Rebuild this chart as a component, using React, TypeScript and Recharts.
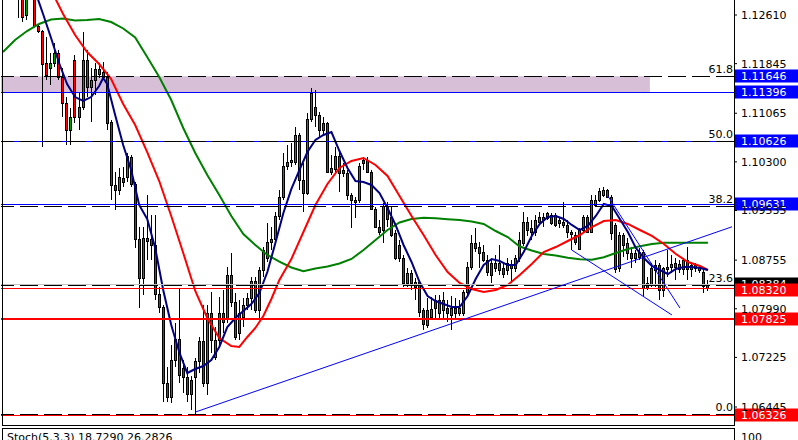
import React from "react";
import { ComposedChart, Bar, Line, XAxis, YAxis, ReferenceLine, ReferenceArea } from "recharts";

// EURUSD-style candles (oldest first)
const openP = [
  1.132, 1.1314, 1.1305, 1.1312, 1.13003, 1.12877, 1.1261, 1.12909, 1.13003, 1.12437,
  1.12358, 1.11855, 1.11777, 1.11855, 1.12013, 1.11635, 1.11226, 1.10801, 1.11902, 1.11006,
  1.11163, 1.11902, 1.11478, 1.11588, 1.11682, 1.11635, 1.11635, 1.10928, 1.09937, 1.09858,
  1.10046, 1.10062, 1.10377, 1.09952, 1.09087, 1.08474, 1.09056, 1.09087, 1.08993, 1.08222,
  1.08018, 1.06823, 1.06603, 1.07184, 1.07514, 1.07058, 1.06917, 1.0687, 1.06917, 1.07169,
  1.07483, 1.06823, 1.07924, 1.07231, 1.07499, 1.07924, 1.07845, 1.08521, 1.08096, 1.07609,
  1.07861, 1.08049, 1.08159, 1.08427, 1.07971, 1.086, 1.08789, 1.0904, 1.09087, 1.09449,
  1.09748, 1.10235, 1.10298, 1.10298, 1.10723, 1.10015, 1.09811, 1.10975, 1.11163, 1.11037,
  1.10912, 1.10912, 1.10141, 1.10188, 1.10392, 1.10172, 1.10125, 1.09779, 1.09701, 1.09701,
  1.1033, 1.1033, 1.10141, 1.09559, 1.09276, 1.09229, 1.09606, 1.09433, 1.09182, 1.08993,
  1.08789, 1.08395, 1.08552, 1.08411, 1.08411, 1.07971, 1.07735, 1.07861, 1.08128, 1.07924,
  1.07971, 1.08002, 1.07892, 1.08002, 1.07924, 1.07924, 1.08254, 1.08647, 1.09024, 1.08961,
  1.08883, 1.08757, 1.0871, 1.08631, 1.086, 1.08631, 1.086, 1.08678, 1.08631, 1.08789,
  1.09024, 1.09355, 1.0926, 1.09197, 1.09355, 1.09433, 1.09418, 1.09465, 1.09465, 1.09339,
  1.09355, 1.09308, 1.09197, 1.0915, 1.0893, 1.09229, 1.09433, 1.09197, 1.09622, 1.09701,
  1.09779, 1.09858, 1.09748, 1.09308, 1.08631, 1.0915, 1.08867, 1.08867, 1.08789, 1.08883,
  1.08883, 1.08395, 1.08364, 1.08678, 1.08678, 1.08285, 1.08616, 1.08647, 1.0871, 1.08616,
  1.08616, 1.08757, 1.08616, 1.08631, 1.08647, 1.08568, 1.08317,
];
const highP = [
  1.133, 1.1322, 1.1318, 1.132, 1.13082, 1.12925, 1.12972, 1.13066, 1.13066, 1.12453,
  1.12374, 1.12264, 1.12013, 1.1217, 1.1206, 1.11777, 1.1132, 1.11148, 1.11981, 1.11383,
  1.12343, 1.1206, 1.11777, 1.11855, 1.11855, 1.11871, 1.11714, 1.10959, 1.10141, 1.10204,
  1.10219, 1.1044, 1.10408, 1.09983, 1.09276, 1.09276, 1.0978, 1.09465, 1.09465, 1.08332,
  1.08049, 1.07074, 1.0742, 1.07766, 1.08301, 1.07184, 1.07074, 1.06933, 1.07216, 1.07546,
  1.08049, 1.08049, 1.08254, 1.07703, 1.08175, 1.08285, 1.08647, 1.08867, 1.08238, 1.08128,
  1.08159, 1.08238, 1.0849, 1.0849, 1.08647, 1.08961, 1.09339, 1.09276, 1.09512, 1.09858,
  1.1044, 1.10566, 1.10597, 1.10849, 1.10754, 1.10282, 1.11069, 1.11462, 1.11431, 1.11085,
  1.11006, 1.10928, 1.10408, 1.10534, 1.10487, 1.10282, 1.10172, 1.09811, 1.09748, 1.10282,
  1.10377, 1.10377, 1.10172, 1.0959, 1.09386, 1.09653, 1.09669, 1.0959, 1.09229, 1.09072,
  1.08836, 1.08631, 1.086, 1.08474, 1.08442, 1.08002, 1.08159, 1.08175, 1.08206, 1.08206,
  1.08254, 1.08128, 1.08191, 1.08159, 1.08128, 1.08285, 1.08726, 1.0915, 1.0926, 1.0904,
  1.08993, 1.08836, 1.08757, 1.08836, 1.08993, 1.08726, 1.08789, 1.08757, 1.08836, 1.09197,
  1.09512, 1.09433, 1.09386, 1.09465, 1.09512, 1.09496, 1.09512, 1.09496, 1.09496, 1.09433,
  1.09669, 1.09386, 1.09229, 1.09197, 1.0926, 1.09465, 1.09465, 1.09779, 1.09779, 1.0989,
  1.09905, 1.09874, 1.09779, 1.09339, 1.09197, 1.09182, 1.09103, 1.08961, 1.08914, 1.08946,
  1.08914, 1.0849, 1.0871, 1.08757, 1.0871, 1.08647, 1.08914, 1.08836, 1.08789, 1.08757,
  1.08789, 1.08961, 1.08726, 1.0871, 1.08678, 1.086, 1.08442,
];
const lowP = [
  1.1308, 1.1301, 1.1296, 1.129, 1.12563, 1.125, 1.12531, 1.12862, 1.12421, 1.12327,
  1.10534, 1.11588, 1.11509, 1.11792, 1.11588, 1.11006, 1.10566, 1.10566, 1.10912, 1.10801,
  1.11116, 1.1132, 1.10928, 1.11352, 1.11619, 1.11588, 1.10801, 1.09701, 1.09543, 1.09779,
  1.09905, 1.09983, 1.09905, 1.08946, 1.08002, 1.08206, 1.08757, 1.08757, 1.08128, 1.07924,
  1.06524, 1.06524, 1.06508, 1.07074, 1.06823, 1.06665, 1.06524, 1.06398, 1.06326, 1.0698,
  1.06759, 1.06634, 1.07294, 1.07184, 1.07389, 1.07609, 1.07766, 1.08018, 1.07499, 1.07499,
  1.07703, 1.07971, 1.07971, 1.07924, 1.07845, 1.0849, 1.08726, 1.08914, 1.0904, 1.09386,
  1.09701, 1.10172, 1.10219, 1.10251, 1.09858, 1.09512, 1.09779, 1.10928, 1.10849, 1.10691,
  1.10723, 1.10125, 1.10094, 1.10141, 1.09826, 1.10062, 1.09701, 1.0926, 1.09418, 1.09653,
  1.10172, 1.10125, 1.09543, 1.0926, 1.0915, 1.09024, 1.09276, 1.09119, 1.08757, 1.08726,
  1.08332, 1.08332, 1.08285, 1.08128, 1.07861, 1.07656, 1.07688, 1.07813, 1.07845, 1.07813,
  1.07845, 1.07782, 1.07656, 1.07813, 1.07876, 1.07876, 1.08206, 1.086, 1.08883, 1.08631,
  1.08726, 1.08505, 1.08395, 1.08568, 1.08521, 1.08474, 1.08521, 1.08395, 1.08568, 1.08726,
  1.08977, 1.09135, 1.09072, 1.09135, 1.09308, 1.09276, 1.09386, 1.09308, 1.09276, 1.0926,
  1.0926, 1.09103, 1.08914, 1.08993, 1.08914, 1.09197, 1.09182, 1.09182, 1.0959, 1.09669,
  1.09748, 1.09732, 1.09072, 1.08553, 1.08568, 1.08804, 1.08757, 1.08631, 1.0871, 1.08757,
  1.08175, 1.08285, 1.08332, 1.08332, 1.08128, 1.08175, 1.0849, 1.08553, 1.08442, 1.08553,
  1.08521, 1.08442, 1.0849, 1.08568, 1.08553, 1.08238, 1.0827,
];
const closeP = [
  1.1314, 1.1305, 1.1312, 1.1296, 1.12877, 1.12579, 1.12909, 1.13003, 1.12437, 1.12358,
  1.1184, 1.11666, 1.11855, 1.12013, 1.11635, 1.11226, 1.10801, 1.11006, 1.11006, 1.11163,
  1.11902, 1.11478, 1.11588, 1.11761, 1.11761, 1.11714, 1.10912, 1.09937, 1.09858, 1.10062,
  1.09983, 1.10392, 1.09952, 1.09087, 1.08474, 1.09103, 1.09103, 1.08993, 1.08222, 1.08018,
  1.06823, 1.06603, 1.07184, 1.07514, 1.06948, 1.06917, 1.06649, 1.06649, 1.07169, 1.07483,
  1.06823, 1.07924, 1.07499, 1.07499, 1.07924, 1.07782, 1.08521, 1.08096, 1.07546, 1.07924,
  1.08049, 1.08159, 1.08427, 1.07971, 1.086, 1.08914, 1.0904, 1.09087, 1.09449, 1.09748,
  1.10235, 1.10298, 1.1033, 1.10723, 1.10015, 1.09811, 1.10975, 1.11383, 1.11037, 1.10801,
  1.10801, 1.10141, 1.10204, 1.10392, 1.10125, 1.10125, 1.09779, 1.09701, 1.09669, 1.10235,
  1.10282, 1.10141, 1.09559, 1.09276, 1.09197, 1.09606, 1.09402, 1.0915, 1.08789, 1.08789,
  1.08395, 1.08552, 1.08395, 1.08332, 1.07939, 1.07751, 1.07971, 1.07986, 1.08002, 1.08128,
  1.08128, 1.07924, 1.08002, 1.07924, 1.08002, 1.08254, 1.08647, 1.09024, 1.08946, 1.08867,
  1.08757, 1.08568, 1.08521, 1.0871, 1.0871, 1.08537, 1.0871, 1.08631, 1.08789, 1.09072,
  1.09355, 1.09229, 1.09197, 1.09386, 1.09433, 1.09386, 1.09496, 1.09339, 1.09308, 1.09386,
  1.09308, 1.09197, 1.09166, 1.0904, 1.09229, 1.09433, 1.09197, 1.09701, 1.09701, 1.09842,
  1.09858, 1.09748, 1.09182, 1.08616, 1.0915, 1.08993, 1.09024, 1.08789, 1.08867, 1.08804,
  1.08317, 1.08317, 1.08631, 1.086, 1.08285, 1.08631, 1.08647, 1.08694, 1.08647, 1.08694,
  1.08757, 1.08616, 1.08678, 1.08678, 1.086, 1.08348, 1.08384,
];
const EMPTY_SLOTS = 6; // chart shift on the right

// moving averages, [candle index, value]
const fastMA: [number, number][] = [
  [6, 1.13334], [8, 1.12988], [10, 1.12626], [12, 1.12248], [14, 1.11855], [16, 1.11525],
  [18, 1.1132], [20, 1.11258], [22, 1.1132], [24, 1.11494], [25, 1.11619], [26, 1.11525],
  [28, 1.11037], [30, 1.10566], [32, 1.10172], [34, 1.09622], [36, 1.09402], [38, 1.08946],
  [40, 1.08285], [42, 1.07735], [44, 1.0731], [46, 1.0698], [48, 1.07043], [50, 1.0709],
  [52, 1.07184], [54, 1.07389], [56, 1.07703], [58, 1.07845], [60, 1.07955], [62, 1.08065],
  [64, 1.08238], [66, 1.08568], [68, 1.09024], [70, 1.09496], [72, 1.09874], [74, 1.10172],
  [76, 1.10455], [78, 1.10644], [80, 1.10723], [82, 1.1077], [84, 1.10471], [86, 1.10204],
  [88, 1.09999], [90, 1.09983], [92, 1.09937], [94, 1.09811], [96, 1.09575], [98, 1.09308],
  [100, 1.08993], [102, 1.08726], [104, 1.08411], [106, 1.08191], [108, 1.08112], [110, 1.08065],
  [112, 1.08018], [114, 1.08018], [116, 1.08191], [118, 1.08458], [120, 1.08678], [122, 1.08773],
  [124, 1.08741], [126, 1.08678], [128, 1.08678], [130, 1.08883], [132, 1.09135], [134, 1.09324],
  [136, 1.09433], [138, 1.09449], [140, 1.09402], [142, 1.09308], [144, 1.09229], [146, 1.09292],
  [148, 1.09449], [150, 1.09638], [152, 1.09606], [154, 1.09402], [156, 1.09197], [158, 1.08946],
  [160, 1.08789], [162, 1.08663], [164, 1.086], [166, 1.08537], [168, 1.08616], [170, 1.08647],
  [172, 1.08647], [174, 1.08631], [176, 1.086],
];
const midMA: [number, number][] = [
  [10, 1.13255], [13, 1.12877], [15, 1.12626], [18, 1.12296], [21, 1.12028], [24, 1.11839],
  [27, 1.11604], [30, 1.1121], [33, 1.1088], [36, 1.10455], [39, 1.09999], [42, 1.09449],
  [45, 1.08867], [48, 1.0827], [51, 1.07845], [54, 1.0753], [57, 1.07404], [59, 1.07389],
  [61, 1.07546], [63, 1.07688], [65, 1.07876], [67, 1.08144], [69, 1.08442], [72, 1.08773],
  [75, 1.09197], [78, 1.09622], [81, 1.09952], [84, 1.10204], [87, 1.10314], [90, 1.10361],
  [93, 1.10251], [96, 1.10078], [99, 1.09764], [102, 1.09449], [105, 1.0915], [108, 1.08836],
  [111, 1.08568], [114, 1.08395], [117, 1.08301], [120, 1.08254], [123, 1.08285], [126, 1.08364],
  [129, 1.08521], [132, 1.08694], [135, 1.08883], [138, 1.08961], [141, 1.09056], [144, 1.0915],
  [147, 1.09276], [150, 1.0937], [153, 1.09386], [156, 1.09324], [159, 1.09229], [162, 1.09135],
  [165, 1.09009], [168, 1.08851], [171, 1.08726], [174, 1.08663], [176, 1.086],
];
const slowMA: [number, number][] = [
  [0, 1.12028], [3, 1.12217], [6, 1.12358], [9, 1.12469], [12, 1.12539], [15, 1.12555],
  [18, 1.12524], [21, 1.12531], [24, 1.12547], [27, 1.125], [30, 1.12398], [33, 1.12256],
  [36, 1.1195], [39, 1.11635], [42, 1.11273], [45, 1.10833], [48, 1.1044], [51, 1.10094],
  [54, 1.09779], [57, 1.09449], [60, 1.09166], [63, 1.08993], [66, 1.08836], [69, 1.08733],
  [72, 1.08639], [75, 1.08579], [78, 1.08623], [81, 1.08655], [84, 1.08702], [87, 1.08773],
  [90, 1.08914], [93, 1.09072], [96, 1.09229], [99, 1.09347], [102, 1.09402], [105, 1.09421],
  [108, 1.09412], [111, 1.09399], [114, 1.09386], [117, 1.09363], [120, 1.09324], [123, 1.09213],
  [126, 1.09119], [129, 1.08969], [132, 1.08906], [135, 1.08851], [138, 1.08826], [141, 1.08791],
  [144, 1.08768], [147, 1.0876], [150, 1.08801], [153, 1.08867], [156, 1.0893], [159, 1.08974],
  [162, 1.09009], [165, 1.09029], [176, 1.09029],
];

const priceTicks = [1.1261, 1.11845, 1.11065, 1.103, 1.09535, 1.08755, 1.0799, 1.07225, 1.06445];

const fibLevels = [
  { label: "61.8", price: 1.11646 },
  { label: "50.0", price: 1.1063 },
  { label: "38.2", price: 1.09614 },
  { label: "23.6", price: 1.08358 },
  { label: "0.0", price: 1.06336 },
];
const blueLevels = [1.11396, 1.10626, 1.09631];
const redLevels = [
  { price: 1.0832, w: 1 },
  { price: 1.07825, w: 2 },
  { price: 1.06326, w: 1 },
];
const bidPrice = 1.08384;
const zone = { from: 1.11396, to: 1.11646, lastIdx: 161 };

const trendLines = [
  { a: [48, 1.06365], b: [182, 1.09279] },
  { a: [151, 1.09764], b: [169, 1.08002] },
  { a: [142, 1.08914], b: [167, 1.07892] },
];

const priceTags = [
  { price: 1.11646, bg: "#0000ff", shift: 0 },
  { price: 1.11396, bg: "#0000ff", shift: 0 },
  { price: 1.10626, bg: "#0000ff", shift: 0 },
  { price: 1.09631, bg: "#0000ff", shift: 0 },
  { price: 1.08384, bg: "#000000", shift: 0 },
  { price: 1.0832, bg: "#ff0000", shift: 2 },
  { price: 1.07825, bg: "#ff0000", shift: 0 },
  { price: 1.06326, bg: "#ff0000", shift: 0 },
];

const FONT = "DejaVu Sans";

type Row = {
  idx: number;
  range?: [number, number];
  o?: number;
  h?: number;
  l?: number;
  c?: number;
  fast?: number;
  mid?: number;
  slow?: number;
};

const rows: Row[] = Array.from({ length: openP.length + EMPTY_SLOTS }, (_, i) =>
  i < openP.length
    ? { idx: i, range: [lowP[i], highP[i]], o: openP[i], h: highP[i], l: lowP[i], c: closeP[i] }
    : { idx: i }
);
fastMA.forEach(([i, v]) => (rows[i].fast = v));
midMA.forEach(([i, v]) => (rows[i].mid = v));
slowMA.forEach(([i, v]) => (rows[i].slow = v));

function Candle(props: any) {
  const { x, y, width, height, payload } = props;
  if (!payload || payload.o == null) return null;
  const { o, h, l, c } = payload;
  const span = h - l || 1e-9;
  const toY = (p: number) => y + ((h - p) / span) * height;
  const cx = Math.floor(x + width / 2) + 0.5;
  const top = Math.round(toY(Math.max(o, c)));
  const bot = Math.round(toY(Math.min(o, c)));
  const bodyH = Math.max(1, bot - top);
  return (
    <g>
      <line x1={cx} x2={cx} y1={Math.round(y)} y2={Math.round(y + height)} stroke="#000" strokeWidth={1} />
      <rect
        x={cx - 1}
        y={top + 0.5}
        width={2}
        height={bodyH}
        fill={c >= o ? "#00a000" : "#ff0000"}
        stroke="#000"
        strokeWidth={1}
      />
    </g>
  );
}

// pixel-snapped horizontal line
function crisp(width: number) {
  return (p: any) => {
    const yy = width % 2 ? Math.round(p.y1) + 0.5 : Math.round(p.y1);
    return (
      <line
        x1={p.x1}
        x2={p.x2}
        y1={yy}
        y2={yy}
        stroke={p.stroke}
        strokeWidth={width}
        strokeDasharray={p.strokeDasharray}
        shapeRendering="crispEdges"
      />
    );
  };
}

function FibLabel({ viewBox, text }: any) {
  if (!viewBox) return null;
  return (
    <text
      x={viewBox.x + viewBox.width - 1}
      y={Math.round(viewBox.y) - 3}
      textAnchor="end"
      fontFamily={FONT}
      fontSize={11}
      fill="#000"
    >
      {text}
    </text>
  );
}

function PriceTag({ viewBox, text, bg, shift }: any) {
  if (!viewBox) return null;
  const cy = Math.round(viewBox.y) + shift;
  const left = viewBox.x + viewBox.width + 1;
  return (
    <g>
      <rect x={left} y={cy - 6.5} width={64} height={13} fill={bg} />
      <text x={left + 6} y={cy + 4} fontFamily={FONT} fontSize={11} fill="#fff">
        {text}
      </text>
    </g>
  );
}

export default function App() {
  return (
    <div style={{ position: "absolute", left: 0, top: 0, width: 798, height: 440, overflow: "hidden", background: "#fff" }}>
      <ComposedChart width={798} height={426} data={rows} margin={{ top: 0, right: 0, bottom: 1, left: 1 }}>
        <XAxis dataKey="idx" hide />
        <YAxis
          orientation="right"
          width={64}
          domain={[1.06162, 1.12846]}
          allowDataOverflow
          ticks={priceTicks}
          interval={0}
          tickFormatter={(v: number) => v.toFixed(5)}
          tick={{ fill: "#000", fontSize: 11, fontFamily: FONT }}
          tickLine={{ stroke: "#000" }}
          tickSize={3}
          tickMargin={4}
          axisLine={false}
        />
        <ReferenceArea
          x1={0}
          x2={zone.lastIdx}
          y1={zone.from}
          y2={zone.to}
          fill="#d8bfd8"
          fillOpacity={1}
          stroke="none"
        />
        <Bar dataKey="range" shape={(p: any) => <Candle {...p} />} isAnimationActive={false} />
        <Line dataKey="slow" type="linear" stroke="#008000" strokeWidth={2} dot={false} connectNulls isAnimationActive={false} />
        <Line dataKey="mid" type="linear" stroke="#ff0000" strokeWidth={2} dot={false} connectNulls isAnimationActive={false} />
        <Line dataKey="fast" type="linear" stroke="#000080" strokeWidth={2} dot={false} connectNulls isAnimationActive={false} />
        {blueLevels.map((p) => (
          <ReferenceLine key={`b${p}`} y={p} stroke="#0000ff" shape={crisp(1)} />
        ))}
        <ReferenceLine y={bidPrice} stroke="#c0c0c0" shape={crisp(1)} />
        {redLevels.map((r) => (
          <ReferenceLine key={`r${r.price}`} y={r.price} stroke="#ff0000" shape={crisp(r.w)} />
        ))}
        {fibLevels.map((f) => (
          <ReferenceLine
            key={f.label}
            y={f.price}
            stroke="#000"
            strokeDasharray="18 6"
            shape={crisp(1)}
            label={<FibLabel text={f.label} />}
          />
        ))}
        {trendLines.map((t, k) => (
          <ReferenceLine
            key={`t${k}`}
            segment={[
              { x: t.a[0], y: t.a[1] },
              { x: t.b[0], y: t.b[1] },
            ]}
            stroke="#0000ff"
            strokeWidth={1}
          />
        ))}
        {priceTags.map((t) => (
          <ReferenceLine
            key={`tag${t.price}`}
            y={t.price}
            stroke="none"
            label={<PriceTag text={t.price.toFixed(5)} bg={t.bg} shift={t.shift} />}
          />
        ))}
      </ComposedChart>
      {/* main window frame */}
      <div
        style={{
          position: "absolute",
          left: 2,
          top: 0,
          width: 731,
          height: 425,
          border: "1px solid #000",
          borderTop: "none",
          pointerEvents: "none",
        }}
      />
      {/* stochastic sub-window, mostly cut off */}
      <div
        style={{
          position: "absolute",
          left: 2,
          top: 428,
          width: 731,
          height: 30,
          border: "1px solid #000",
        }}
      />
      <div style={{ position: "absolute", left: 7, top: 431, fontFamily: FONT, fontSize: 11, color: "#000", whiteSpace: "nowrap" }}>
        Stoch(5,3,3) 18.7290 26.2826
      </div>
      <div style={{ position: "absolute", left: 741, top: 431, fontFamily: FONT, fontSize: 11, color: "#000" }}>100</div>
    </div>
  );
}
